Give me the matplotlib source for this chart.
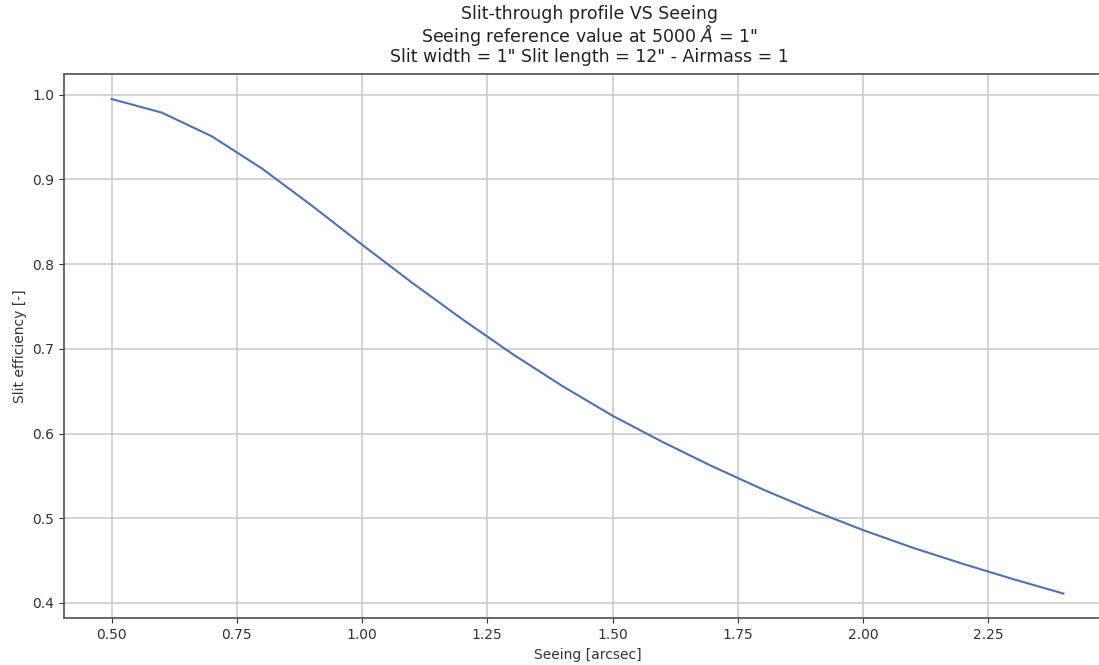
import matplotlib
matplotlib.use("Agg")
import matplotlib.pyplot as plt

seeing = [0.5, 0.6, 0.7, 0.8, 0.9, 1.0, 1.1, 1.2, 1.3, 1.4, 1.5, 1.6, 1.7, 1.8, 1.9, 2.0, 2.1, 2.2, 2.3, 2.4]
efficiency = [0.995, 0.979, 0.951, 0.913, 0.869, 0.823, 0.778, 0.735, 0.694, 0.656, 0.621, 0.590,
              0.561, 0.534, 0.509, 0.486, 0.465, 0.446, 0.428, 0.411]
xticks = [0.50, 0.75, 1.00, 1.25, 1.50, 1.75, 2.00, 2.25]
yticks = [0.4, 0.5, 0.6, 0.7, 0.8, 0.9, 1.0]
title_lines = ["Slit-through profile VS Seeing",
               'Seeing reference value at 5000 $\\AA$ = 1"',
               'Slit width = 1" Slit length = 12" - Airmass = 1']
title_baselines = [19.0, 41.5, 62.0]

W, H = 1099, 665
fig = plt.figure(figsize=(W / 100, H / 100), dpi=100)
ax = fig.add_axes([64 / W, 46.7 / H, 1047 / W, 544 / H])
ax.plot(seeing, efficiency, color="#4C72B0", linewidth=1.5)
ax.set_xticks(xticks)
ax.set_xticklabels([f"{t:.2f}" for t in xticks])
ax.set_yticks(yticks)
ax.set_yticklabels([f"{t:.1f}" for t in yticks])
ax.grid(True, color="#cccccc", linewidth=1.2)
ax.set_axisbelow(True)
for s in ax.spines.values():
    s.set_color("#555555")
    s.set_linewidth(1.25)
ax.tick_params(colors="#333333", labelsize=10)
ax.set_xlabel("Seeing [arcsec]", fontsize=10, color="#333333")
ax.set_ylabel("Slit efficiency [-]", fontsize=10, color="#333333")

cx = (64 + 1047 / 2 + 2) / W
for line, yb in zip(title_lines, title_baselines):
    fig.text(cx, 1 - yb / H, line, ha="center", va="baseline", fontsize=12.5, color="#222222")

fig.savefig("out.png", dpi=100)
